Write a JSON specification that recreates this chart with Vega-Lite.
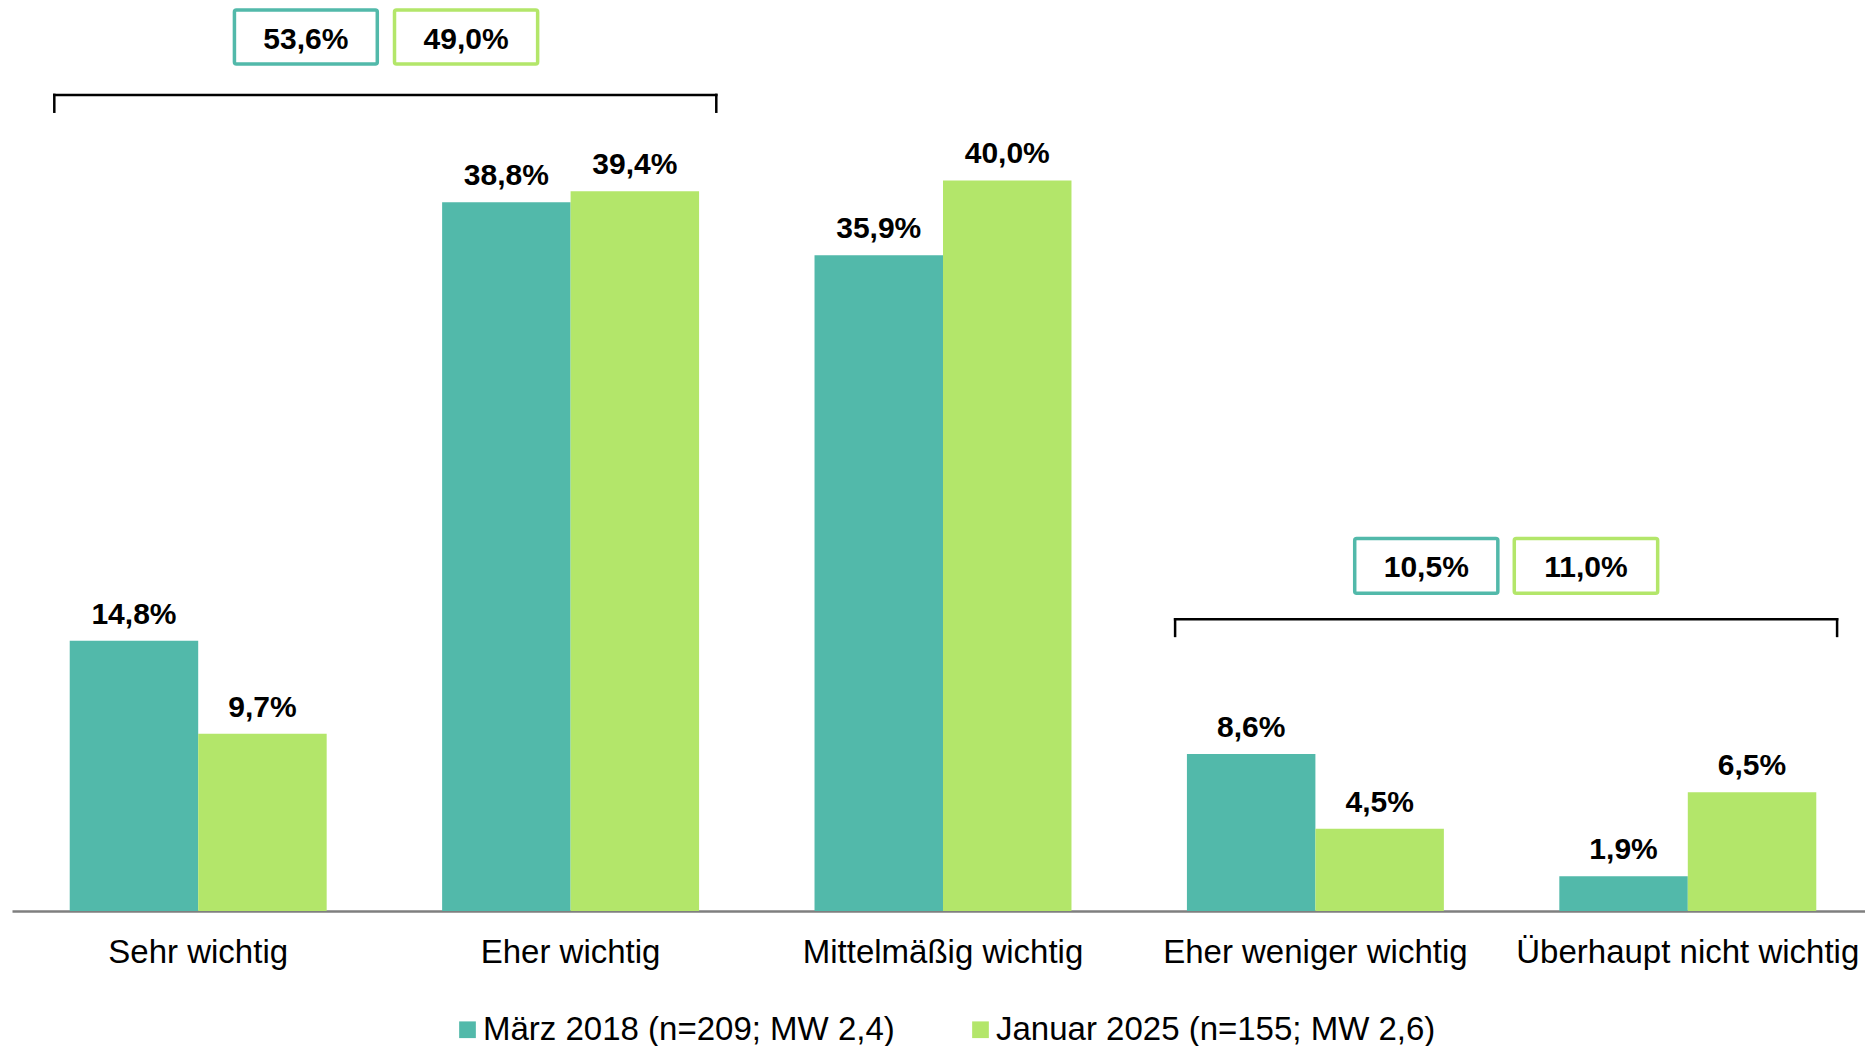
{
  "$schema": "https://vega.github.io/schema/vega-lite/v6.json",
  "width": 1862,
  "height": 895,
  "autosize": {"type": "none"},
  "padding": {"left": 12, "top": 16, "right": 0, "bottom": 135},
  "background": "#ffffff",
  "config": {
    "font": "Liberation Sans",
    "view": {"stroke": null},
    "locale": {"number": {"decimal": ",", "thousands": ".", "grouping": [3], "currency": ["", " €"]}},
    "axisX": {
      "domainColor": "#7f7f7f",
      "domainWidth": 2.5,
      "ticks": false,
      "tickSize": 0,
      "labelPadding": 25,
      "labelFontSize": 33,
      "labelFont": "Liberation Sans",
      "labelColor": "#000000",
      "labelAngle": 0,
      "labelLimit": 0,
      "grid": false
    }
  },
  "datasets": {
    "bars": [
      {"Kategorie": "Sehr wichtig", "Welle": "März 2018 (n=209; MW 2,4)", "Anteil": 0.148},
      {"Kategorie": "Sehr wichtig", "Welle": "Januar 2025 (n=155; MW 2,6)", "Anteil": 0.097},
      {"Kategorie": "Eher wichtig", "Welle": "März 2018 (n=209; MW 2,4)", "Anteil": 0.388},
      {"Kategorie": "Eher wichtig", "Welle": "Januar 2025 (n=155; MW 2,6)", "Anteil": 0.394},
      {"Kategorie": "Mittelmäßig wichtig", "Welle": "März 2018 (n=209; MW 2,4)", "Anteil": 0.359},
      {"Kategorie": "Mittelmäßig wichtig", "Welle": "Januar 2025 (n=155; MW 2,6)", "Anteil": 0.400},
      {"Kategorie": "Eher weniger wichtig", "Welle": "März 2018 (n=209; MW 2,4)", "Anteil": 0.086},
      {"Kategorie": "Eher weniger wichtig", "Welle": "Januar 2025 (n=155; MW 2,6)", "Anteil": 0.045},
      {"Kategorie": "Überhaupt nicht wichtig", "Welle": "März 2018 (n=209; MW 2,4)", "Anteil": 0.019},
      {"Kategorie": "Überhaupt nicht wichtig", "Welle": "Januar 2025 (n=155; MW 2,6)", "Anteil": 0.065}
    ],
    "summen": [
      {"Gruppe": "wichtig", "von": "Sehr wichtig", "Welle": "März 2018 (n=209; MW 2,4)", "Anteil": 0.536},
      {"Gruppe": "wichtig", "von": "Sehr wichtig", "Welle": "Januar 2025 (n=155; MW 2,6)", "Anteil": 0.490},
      {"Gruppe": "unwichtig", "von": "Eher weniger wichtig", "Welle": "März 2018 (n=209; MW 2,4)", "Anteil": 0.105},
      {"Gruppe": "unwichtig", "von": "Eher weniger wichtig", "Welle": "Januar 2025 (n=155; MW 2,6)", "Anteil": 0.110}
    ],
    "klammern": [
      {"Gruppe": "wichtig", "von": "Sehr wichtig", "bis": "Eher wichtig"},
      {"Gruppe": "unwichtig", "von": "Eher weniger wichtig", "bis": "Überhaupt nicht wichtig"}
    ]
  },
  "layer": [
    {
      "data": {"name": "bars"},
      "mark": {"type": "bar"},
      "encoding": {
        "x": {
          "field": "Kategorie", "type": "nominal", "sort": null, "title": null,
          "scale": {"domain": ["Sehr wichtig", "Eher wichtig", "Mittelmäßig wichtig", "Eher weniger wichtig", "Überhaupt nicht wichtig"], "paddingInner": 0.31, "paddingOuter": 0.155}
        },
        "xOffset": {"field": "Welle", "type": "nominal", "sort": null, "scale": {"domain": ["März 2018 (n=209; MW 2,4)", "Januar 2025 (n=155; MW 2,6)"]}},
        "y": {"field": "Anteil", "type": "quantitative", "axis": null, "scale": {"domain": [0, 0.49], "nice": false, "zero": true}},
        "color": {
          "field": "Welle", "type": "nominal", "sort": null,
          "scale": {"domain": ["März 2018 (n=209; MW 2,4)", "Januar 2025 (n=155; MW 2,6)"], "range": ["#52B9AA", "#B3E66A"]},
          "legend": {
            "title": null, "orient": "none", "legendX": 439, "legendY": 997, "direction": "horizontal",
            "symbolType": "square", "symbolSize": 279, "symbolStrokeWidth": 0,
            "labelFontSize": 33, "labelFont": "Liberation Sans", "labelColor": "#000000",
            "labelOffset": -1, "columnPadding": 69, "padding": 0, "labelLimit": 0
          }
        }
      }
    },
    {
      "data": {"name": "bars"},
      "mark": {"type": "text", "baseline": "alphabetic", "align": "center", "dy": -17, "fontSize": 30, "fontWeight": "bold", "font": "Liberation Sans", "color": "#000000"},
      "encoding": {
        "x": {"field": "Kategorie", "type": "nominal", "sort": null, "title": null},
        "xOffset": {"field": "Welle", "type": "nominal", "sort": null},
        "y": {"field": "Anteil", "type": "quantitative", "axis": null},
        "text": {"field": "Anteil", "type": "quantitative", "format": ".1%"}
      }
    },
    {
      "data": {"name": "klammern"},
      "transform": [{"filter": "datum.Gruppe === 'wichtig'"}],
      "mark": {"type": "rule", "color": "#000000", "strokeWidth": 2.5, "strokeCap": "square"},
      "encoding": {
        "x": {"field": "von", "type": "nominal", "bandPosition": -0.06, "title": null},
        "x2": {"field": "bis", "bandPosition": 1.067},
        "y": {"datum": 0.4468, "type": "quantitative", "axis": null}
      }
    },
    {
      "data": {"name": "klammern"},
      "transform": [{"filter": "datum.Gruppe === 'wichtig'"}],
      "mark": {"type": "rule", "color": "#000000", "strokeWidth": 2.5, "strokeCap": "square"},
      "encoding": {
        "x": {"field": "von", "type": "nominal", "bandPosition": -0.06, "title": null},
        "y": {"datum": 0.4468, "type": "quantitative", "axis": null},
        "y2": {"datum": 0.4376}
      }
    },
    {
      "data": {"name": "klammern"},
      "transform": [{"filter": "datum.Gruppe === 'wichtig'"}],
      "mark": {"type": "rule", "color": "#000000", "strokeWidth": 2.5, "strokeCap": "square"},
      "encoding": {
        "x": {"field": "bis", "type": "nominal", "bandPosition": 1.067, "title": null},
        "y": {"datum": 0.4468, "type": "quantitative", "axis": null},
        "y2": {"datum": 0.4376}
      }
    },
    {
      "data": {"name": "klammern"},
      "transform": [{"filter": "datum.Gruppe === 'unwichtig'"}],
      "mark": {"type": "rule", "color": "#000000", "strokeWidth": 2.5, "strokeCap": "square"},
      "encoding": {
        "x": {"field": "von", "type": "nominal", "bandPosition": -0.046, "title": null},
        "x2": {"field": "bis", "bandPosition": 1.081},
        "y": {"datum": 0.1597, "type": "quantitative", "axis": null}
      }
    },
    {
      "data": {"name": "klammern"},
      "transform": [{"filter": "datum.Gruppe === 'unwichtig'"}],
      "mark": {"type": "rule", "color": "#000000", "strokeWidth": 2.5, "strokeCap": "square"},
      "encoding": {
        "x": {"field": "von", "type": "nominal", "bandPosition": -0.046, "title": null},
        "y": {"datum": 0.1597, "type": "quantitative", "axis": null},
        "y2": {"datum": 0.1506}
      }
    },
    {
      "data": {"name": "klammern"},
      "transform": [{"filter": "datum.Gruppe === 'unwichtig'"}],
      "mark": {"type": "rule", "color": "#000000", "strokeWidth": 2.5, "strokeCap": "square"},
      "encoding": {
        "x": {"field": "bis", "type": "nominal", "bandPosition": 1.081, "title": null},
        "y": {"datum": 0.1597, "type": "quantitative", "axis": null},
        "y2": {"datum": 0.1506}
      }
    },
    {
      "data": {"name": "summen"},
      "transform": [{"filter": "datum.Gruppe === 'wichtig' && indexof(datum.Welle, 'März') === 0"}],
      "mark": {"type": "rect", "fill": "#ffffff", "stroke": "#52B9AA", "strokeWidth": 3.5, "cornerRadius": 2},
      "encoding": {
        "x": {"field": "von", "type": "nominal", "bandPosition": 0.641, "title": null},
        "x2": {"field": "von", "bandPosition": 1.197},
        "y": {"datum": 0.4933, "type": "quantitative", "axis": null},
        "y2": {"datum": 0.4637}
      }
    },
    {
      "data": {"name": "summen"},
      "transform": [{"filter": "datum.Gruppe === 'wichtig' && indexof(datum.Welle, 'Januar') === 0"}],
      "mark": {"type": "rect", "fill": "#ffffff", "stroke": "#B3E66A", "strokeWidth": 3.5, "cornerRadius": 2},
      "encoding": {
        "x": {"field": "von", "type": "nominal", "bandPosition": 1.264, "title": null},
        "x2": {"field": "von", "bandPosition": 1.821},
        "y": {"datum": 0.4933, "type": "quantitative", "axis": null},
        "y2": {"datum": 0.4637}
      }
    },
    {
      "data": {"name": "summen"},
      "transform": [{"filter": "datum.Gruppe === 'unwichtig' && indexof(datum.Welle, 'März') === 0"}],
      "mark": {"type": "rect", "fill": "#ffffff", "stroke": "#52B9AA", "strokeWidth": 3.5, "cornerRadius": 2},
      "encoding": {
        "x": {"field": "von", "type": "nominal", "bandPosition": 0.653, "title": null},
        "x2": {"field": "von", "bandPosition": 1.21},
        "y": {"datum": 0.2039, "type": "quantitative", "axis": null},
        "y2": {"datum": 0.174}
      }
    },
    {
      "data": {"name": "summen"},
      "transform": [{"filter": "datum.Gruppe === 'unwichtig' && indexof(datum.Welle, 'Januar') === 0"}],
      "mark": {"type": "rect", "fill": "#ffffff", "stroke": "#B3E66A", "strokeWidth": 3.5, "cornerRadius": 2},
      "encoding": {
        "x": {"field": "von", "type": "nominal", "bandPosition": 1.274, "title": null},
        "x2": {"field": "von", "bandPosition": 1.832},
        "y": {"datum": 0.2039, "type": "quantitative", "axis": null},
        "y2": {"datum": 0.174}
      }
    },
    {
      "data": {"name": "summen"},
      "transform": [{"filter": "datum.Gruppe === 'wichtig' && indexof(datum.Welle, 'März') === 0"}],
      "mark": {"type": "text", "baseline": "middle", "align": "center", "fontSize": 30, "fontWeight": "bold", "font": "Liberation Sans", "color": "#000000"},
      "encoding": {
        "x": {"field": "von", "type": "nominal", "bandPosition": 0.919, "title": null},
        "y": {"datum": 0.4769, "type": "quantitative", "axis": null},
        "text": {"field": "Anteil", "type": "quantitative", "format": ".1%"}
      }
    },
    {
      "data": {"name": "summen"},
      "transform": [{"filter": "datum.Gruppe === 'wichtig' && indexof(datum.Welle, 'Januar') === 0"}],
      "mark": {"type": "text", "baseline": "middle", "align": "center", "fontSize": 30, "fontWeight": "bold", "font": "Liberation Sans", "color": "#000000"},
      "encoding": {
        "x": {"field": "von", "type": "nominal", "bandPosition": 1.5425, "title": null},
        "y": {"datum": 0.4769, "type": "quantitative", "axis": null},
        "text": {"field": "Anteil", "type": "quantitative", "format": ".1%"}
      }
    },
    {
      "data": {"name": "summen"},
      "transform": [{"filter": "datum.Gruppe === 'unwichtig' && indexof(datum.Welle, 'März') === 0"}],
      "mark": {"type": "text", "baseline": "middle", "align": "center", "fontSize": 30, "fontWeight": "bold", "font": "Liberation Sans", "color": "#000000"},
      "encoding": {
        "x": {"field": "von", "type": "nominal", "bandPosition": 0.9315, "title": null},
        "y": {"datum": 0.1876, "type": "quantitative", "axis": null},
        "text": {"field": "Anteil", "type": "quantitative", "format": ".1%"}
      }
    },
    {
      "data": {"name": "summen"},
      "transform": [{"filter": "datum.Gruppe === 'unwichtig' && indexof(datum.Welle, 'Januar') === 0"}],
      "mark": {"type": "text", "baseline": "middle", "align": "center", "fontSize": 30, "fontWeight": "bold", "font": "Liberation Sans", "color": "#000000"},
      "encoding": {
        "x": {"field": "von", "type": "nominal", "bandPosition": 1.553, "title": null},
        "y": {"datum": 0.1876, "type": "quantitative", "axis": null},
        "text": {"field": "Anteil", "type": "quantitative", "format": ".1%"}
      }
    }
  ]
}
